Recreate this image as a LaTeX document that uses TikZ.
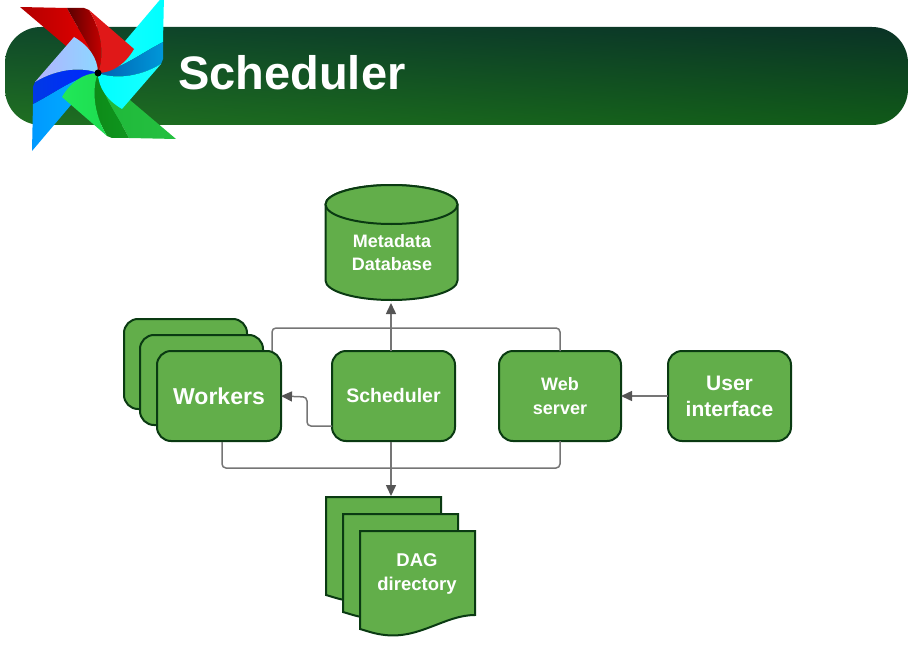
\documentclass[tikz,border=0pt]{standalone}
\usepackage{fontspec}
\setmainfont{Liberation Sans}
\usetikzlibrary{shapes.geometric,arrows.meta,calc,shadings}
\definecolor{boxg}{HTML}{62AE4A}
\definecolor{edgeg}{HTML}{0A3A12}
\definecolor{conng}{HTML}{757575}
\definecolor{tipg}{HTML}{555555}
\definecolor{banul}{HTML}{0F482A}
\definecolor{banll}{HTML}{207022}
\definecolor{banur}{HTML}{0A3226}
\definecolor{banlr}{HTML}{105A18}
\definecolor{redlobe}{HTML}{E01818}
\definecolor{greenouta}{HTML}{1FB83A}
\definecolor{greenoutb}{HTML}{25C040}
\definecolor{greenlobea}{HTML}{20E858}
\definecolor{greenlobeb}{HTML}{1EDC50}
\definecolor{greenbanda}{HTML}{0D8A18}
\definecolor{greenbandb}{HTML}{0F961E}
\tikzset{
  box/.style={draw=edgeg,line width=2pt,fill=boxg,outer sep=0pt,rounded corners=14pt,minimum width=123pt,minimum height=90pt,inner sep=0pt,text=white,font=\bfseries\fontsize{19.5}{24}\selectfont,align=center},
  docshape/.style={draw=edgeg,line width=2pt,fill=boxg},
  conn/.style={draw=conng,line width=1.5pt,rounded corners=4pt},
  arrow/.style={conn,-{Triangle[length=11pt,width=10pt,color=tipg]}},
  label/.style={text=white,font=\bfseries\fontsize{19}{24}\selectfont,align=center},
  ghost/.style={inner sep=0pt,outer sep=0pt}
}
\newcommand{\blade}[5]{%
  \begin{scope}[shift={(98,73)},rotate=#1]
    \shade[left color=#2,right color=#3] (-78,-66) -- (-31,-65) .. controls (-18,-40) and (-5,-25) .. (0,0) -- cycle;
    \shade[left color=#4,right color=#5] (-31,-65) -- (-14,-65) -- (-9,-63) .. controls (5,-40) and (6,-15) .. (0,0) .. controls (-5,-25) and (-18,-40) .. (-31,-65) -- cycle;
  \end{scope}}
\newcommand{\lobe}[3]{%
  \begin{scope}[shift={(98,73)},rotate=#1]
    \shade[left color=#2,right color=#3] (-9,-63) -- (36,-24) .. controls (28,-10) and (15,0) .. (0,0) .. controls (6,-15) and (5,-40) .. (-9,-63) -- cycle;
  \end{scope}}
\newcommand{\dagsheet}[2]{%
  \begin{scope}[shift={(#1,#2)}]
    \path[docshape] (0,0) -- (115,0) -- (115,84) .. controls (85,84) and (60,108) .. (25,104) .. controls (15,103) and (7,100) .. (0,98) -- cycle;
  \end{scope}}
\begin{document}
\begin{tikzpicture}[x=1pt,y=-1pt]
\useasboundingbox (0,0) rectangle (909,671);
% banner
\shade[rounded corners=36pt,upper left=banul,lower left=banll,upper right=banur,lower right=banlr]
  (5,27) rectangle (908,125);
\node[anchor=base west,inner sep=0pt,text=white,font=\bfseries\fontsize{47}{50}\selectfont] (title) at (178,90) {Scheduler};
% logo
\blade{0}{red!70!black}{red!90!black}{red!35!black}{red!80!black}
\blade{-90}{cyan!90!white}{cyan}{blue!45!cyan!70!black}{blue!30!cyan!85!black}
\blade{-180}{greenouta}{greenoutb}{greenbanda}{greenbandb}
\blade{-270}{blue!40!cyan}{blue!30!cyan}{blue!75!cyan!90!black}{blue!85!cyan}
\lobe{0}{redlobe}{redlobe}
\lobe{-90}{cyan}{cyan!90!white}
\lobe{-180}{greenlobea}{greenlobeb}
\lobe{-270}{blue!30!white}{blue!35!cyan!45!white}
\fill[black] (98,73) circle (3.5);
% boxes
\node[box,anchor=north west] (w1) at (124,319) {};
\node[box,anchor=north west] (w2) at (140,335) {};
\coordinate (wt) at (272,351);
\coordinate (wb) at (222,442);
\node[box,anchor=north west,font=\bfseries\fontsize{23}{26}\selectfont,minimum width=124pt] (workers) at (157,351) {Workers};
\node[box,anchor=north west] (sched) at (332,351) {Scheduler};
\node[box,anchor=north west,minimum width=122pt,font=\bfseries\fontsize{18}{24}\selectfont] (web) at (499,351) {Web\\server};
\node[box,anchor=north west,font=\bfseries\fontsize{21}{26}\selectfont] (ui) at (668,351) {User\\interface};
% database
\path[docshape] (325.5,204.5) -- (325.5,280.5) arc[start angle=180,end angle=360,x radius=66pt,y radius=19.5pt] -- (457.5,204.5) arc[start angle=0,end angle=180,x radius=66pt,y radius=19.5pt] -- cycle;
\path[docshape] (391.5,204.5) circle[x radius=66pt,y radius=19.5pt];
\node[ghost,minimum width=132pt,minimum height=115pt] (db) at (391.5,242.5) {};
\node[label,font=\bfseries\fontsize{18}{23}\selectfont] (dbtext) at (392,253) {Metadata\\Database};
% DAG directory
\dagsheet{326}{497}
\dagsheet{343}{514}
\dagsheet{360}{531}
\node[ghost,minimum width=115pt,minimum height=1pt,anchor=north west] (dagtop) at (326,497) {};
\node[label,font=\bfseries\fontsize{18.5}{24}\selectfont] (dagtext) at (417,574) {DAG\\directory};
% connectors
\coordinate (sn) at (391,351);
\coordinate (ss) at (391,442);
\draw[conn] (wt) |- (web.north |- 0,328) -- (web.north);
\draw[conn] (wb) |- (web.south |- 0,468) -- (web.south);
\draw[arrow,shorten >=3pt] (sn) -- (sn |- db.south);
\draw[arrow,shorten >=1pt] (ss) -- (ss |- dagtop.north);
\draw[arrow] (sched.west |- 0,426) -- (307,426) -- (307,397) -- (workers.east);
\draw[arrow] (ui.west) -- (web.east);
\end{tikzpicture}
\end{document}
